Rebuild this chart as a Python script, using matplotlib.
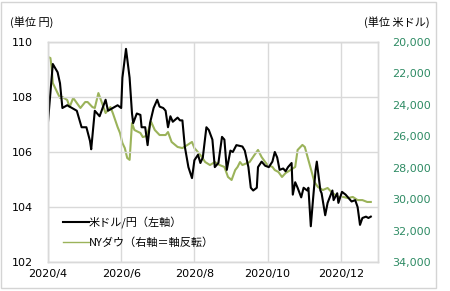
import matplotlib
matplotlib.use('Agg')
import matplotlib.pyplot as plt
import matplotlib.dates as mdates
import pandas as pd
from matplotlib.patches import Rectangle

plt.rcParams['font.family'] = ['DejaVu Sans', 'Noto Sans CJK JP']
JP = ['Noto Sans CJK JP', 'DejaVu Sans']

# ----------------- Data -----------------
yen_dates = [
    "04-01", "04-05", "04-09", "04-11", "04-13", "04-17", "04-21", "04-25", "04-29", "05-03",
    "05-06", "05-07", "05-10", "05-14", "05-19", "05-21", "05-25", "05-29", "06-01", "06-02",
    "06-05", "06-08", "06-10", "06-11", "06-14", "06-17", "06-18", "06-21", "06-23", "06-25",
    "06-28", "07-01", "07-03", "07-06", "07-08", "07-10", "07-12", "07-14", "07-18", "07-20",
    "07-22", "07-24", "07-27", "07-30", "08-01", "08-04", "08-06", "08-08", "08-11", "08-13",
    "08-16", "08-18", "08-21", "08-24", "08-26", "08-28", "08-31", "09-02", "09-05", "09-10",
    "09-12", "09-15", "09-17", "09-19", "09-22", "09-23", "09-26", "09-29", "10-02", "10-05",
    "10-07", "10-09", "10-11", "10-14", "10-16", "10-18", "10-21", "10-22", "10-24", "10-26",
    "10-29", "10-31", "11-03", "11-04", "11-06", "11-08", "11-10", "11-11", "11-14", "11-15",
    "11-18", "11-20", "11-24", "11-25", "11-28", "11-29", "12-02", "12-05", "12-07", "12-10",
    "12-13", "12-15", "12-17", "12-19", "12-22", "12-24", "12-26",
]
yen_values = [
    107.1, 109.2, 108.9, 108.5, 107.6, 107.7, 107.6, 107.5, 106.9, 106.9,
    106.4, 106.1, 107.5, 107.3, 107.9, 107.5, 107.6, 107.7, 107.6, 108.7,
    109.75, 108.7, 107.4, 107.05, 107.4, 107.35, 106.9, 106.9, 106.25, 107.05,
    107.6, 107.9, 107.65, 107.6, 107.5, 106.9, 107.3, 107.1, 107.25, 107.15,
    107.15, 106.2, 105.45, 105.05, 105.7, 105.9, 105.6, 105.8, 106.9, 106.8,
    106.45, 105.45, 105.6, 106.55, 106.45, 105.35, 106.05, 106.0, 106.25, 106.2,
    106.05, 105.45, 104.7, 104.6, 104.7, 105.45, 105.65, 105.5, 105.45, 105.65,
    106.0, 105.8, 105.35, 105.4, 105.3, 105.45, 105.6, 104.45, 104.9, 104.7,
    104.35, 104.7, 104.6, 104.7, 103.3, 104.35, 105.35, 105.65, 104.6, 104.5,
    103.7, 104.15, 104.6, 104.25, 104.5, 104.15, 104.55, 104.45, 104.35, 104.2,
    104.25, 104.0, 103.35, 103.6, 103.65, 103.6, 103.65,
]

dow_dates = [
    "04-01", "04-03", "04-04", "04-05", "04-09", "04-11", "04-13", "04-17", "04-19", "04-22",
    "04-25", "04-28", "05-02", "05-04", "05-08", "05-10", "05-13", "05-16", "05-19", "05-23",
    "05-25", "05-29", "05-31", "06-02", "06-04", "06-06", "06-08", "06-10", "06-12", "06-17",
    "06-19", "06-22", "06-26", "06-29", "07-03", "07-08", "07-10", "07-13", "07-18", "07-22",
    "07-26", "07-30", "08-01", "08-06", "08-10", "08-14", "08-18", "08-22", "08-26", "08-29",
    "09-01", "09-04", "09-06", "09-08", "09-10", "09-14", "09-16", "09-20", "09-23", "09-26",
    "09-29", "10-01", "10-05", "10-07", "10-10", "10-13", "10-16", "10-20", "10-24", "10-26",
    "10-30", "11-01", "11-04", "11-07", "11-09", "11-12", "11-16", "11-20", "11-24", "11-29",
    "12-03", "12-07", "12-11", "12-15", "12-19", "12-23", "12-26",
]
dow_values = [
    20950, 21020, 21590, 22610, 23250, 23560, 23500, 23690, 24140, 23560,
    23880, 24200, 23820, 23820, 24140, 24200, 23250, 23880, 24520, 24140,
    24520, 25410, 25790, 26430, 26750, 27380, 27500, 25160, 25600, 25790,
    26050, 25980, 25090, 25600, 25920, 25920, 25730, 26360, 26680, 26750,
    26560, 26360, 26750, 27190, 27640, 27830, 27640, 27830, 27950, 28590,
    28780, 28150, 27950, 27640, 27830, 27700, 27640, 27190, 26870, 27320,
    27640, 27830, 27950, 28150, 28270, 28590, 28340, 28150, 27950, 26870,
    26550, 26680, 27510, 28340, 28910, 29230, 29420, 29290, 29610, 29860,
    29860, 29930, 29860, 30060, 30060, 30180, 30180,
]

yen_ticks = [102, 104, 106, 108, 110]
dow_ticks = [20000, 22000, 24000, 26000, 28000, 30000, 32000, 34000]
month_ticks = ["2020-04-01", "2020-06-01", "2020-08-01", "2020-10-01", "2020-12-01"]

yen_x = pd.to_datetime(["2020-" + d for d in yen_dates])
dow_x = pd.to_datetime(["2020-" + d for d in dow_dates])

# ----------------- Plot -----------------
fig = plt.figure(figsize=(4.5, 2.91), dpi=100)
fig.patches.append(Rectangle((0.002, 0.012), 0.966, 0.982, transform=fig.transFigure,
                             fill=False, edgecolor='#d4d4d4', linewidth=1.0))

ax = fig.add_axes([48 / 450, 29 / 291, 330 / 450, 220 / 291])
ax2 = ax.twinx()

grid_c = '#d9d9d9'
l1, = ax.plot(yen_x, yen_values, color='black', linewidth=1.5, label='米ドル/円（左軸）')
l2, = ax2.plot(dow_x, dow_values, color='#9bb35a', linewidth=1.5, label='NYダウ（右軸＝軸反転）')
ax.set_zorder(ax2.get_zorder() + 1)
ax.patch.set_visible(False)

ax.set_xlim(pd.Timestamp("2020-04-01"), pd.Timestamp("2021-01-01"))
ax.set_ylim(102, 110)
ax2.set_ylim(34000, 20000)

ax.set_xticks(pd.to_datetime(month_ticks))
ax.xaxis.set_major_formatter(mdates.DateFormatter('%Y/%-m'))
ax.set_yticks(yen_ticks)
ax2.set_yticks(dow_ticks)
ax2.set_yticklabels([f"{v:,}" for v in dow_ticks])

ax.grid(True, color=grid_c, linewidth=1.0)
ax.tick_params(axis='x', length=0, pad=5, labelsize=8, colors='black')
ax.tick_params(axis='y', length=0, pad=11, labelsize=8, colors='black')
ax2.tick_params(axis='y', length=0, pad=10, labelsize=8, colors='#2e8b64')
for a in (ax, ax2):
    for s in a.spines.values():
        s.set_color(grid_c)
        s.set_linewidth(1.0)

fig.text(10 / 450, 1 - 22 / 291, '(単位 円)', family=JP, fontsize=8, va='center', ha='left')
fig.text(430 / 450, 1 - 22 / 291, '(単位 米ドル)', family=JP, fontsize=8, va='center', ha='right')

leg = ax.legend(handles=[l1, l2], loc='lower left', bbox_to_anchor=(0.015, 0.02),
                frameon=False, handlelength=2.3, handletextpad=0.0, labelspacing=0.75,
                prop={'family': JP, 'size': 8})
leg.get_lines()[1].set_linewidth(1.0)

fig.savefig('out.png', dpi=100)
